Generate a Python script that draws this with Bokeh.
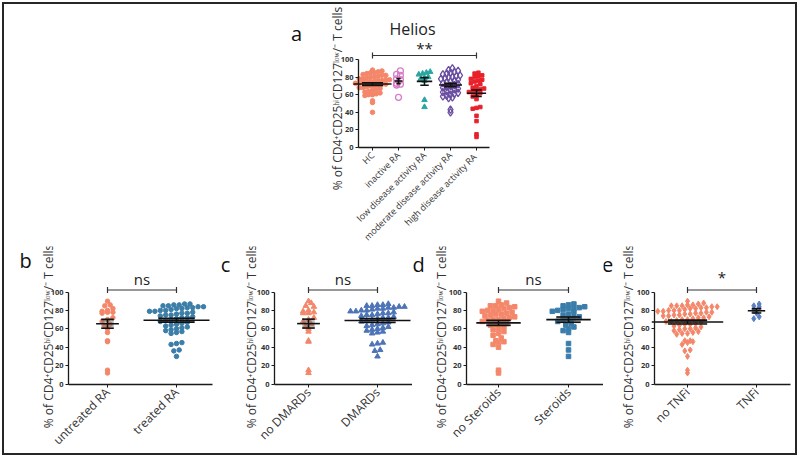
import math
import numpy as np
from bokeh.plotting import figure
from bokeh.layouts import column, row
from bokeh.models import Range1d, FixedTicker, Label
from bokeh.embed import file_html
from bokeh.resources import INLINE

# ---------------- data ----------------
Y_LABEL = "% of CD4\u207aCD25\u02b0\u2071CD127\u02e1\u1d52\u02b7/\u207b T cells"

a_title = "Helios"
a_categories = ["HC", "inactive RA", "low disease activity RA",
                "moderate disease activity RA", "high  disease activity RA"]
a_hc = [88, 87, 86, 85, 85, 84, 83, 82, 82, 81, 80, 80, 79, 78, 78, 77, 77, 76, 76, 75,
        75, 74, 74, 73, 73, 72, 72, 71, 70, 70, 69, 68, 68, 67, 66, 65, 64, 63, 62, 61,
        60, 60, 59, 53, 51, 40]
a_inactive = [87, 83, 82, 78, 77, 73, 72, 71, 57]
a_low = [86, 85, 84, 83, 80, 79, 78, 76, 54, 46]
a_moderate = [90, 88, 87, 86, 85, 84, 83, 82, 81, 80, 80, 79, 78, 77, 76, 75, 74, 73, 72,
              71, 70, 69, 68, 67, 66, 65, 64, 63, 62, 61, 60, 59, 58, 57, 56, 43, 40]
a_high = [85, 84, 82, 81, 80, 78, 77, 76, 75, 73, 72, 70, 68, 67, 66, 65, 64, 63, 62, 60,
          58, 55, 46, 45, 44, 36, 30, 15, 12]
a_sig = "**"

b_categories = ["untreated RA", "treated RA"]
b_untreated = [90, 86, 85, 82, 80, 79, 78, 78, 77, 72, 70, 68, 65, 63, 60, 56, 47, 46, 15, 12]
b_treated = [87, 87, 86, 86, 85, 85, 84, 84, 83, 83, 82, 82, 81, 80, 80, 79, 79, 78, 77, 77,
             76, 75, 75, 74, 73, 72, 72, 71, 70, 69, 68, 67, 66, 65, 64, 63, 62, 61, 60, 59,
             58, 57, 56, 55, 45, 44, 43, 37, 36, 30]
b_sig = "ns"

c_categories = ["no DMARDs", "DMARDs"]
c_no = [90, 88, 85, 84, 80, 79, 78, 77, 77, 72, 70, 68, 65, 63, 60, 57, 47, 46, 15, 12]
c_yes = [87, 86, 86, 85, 85, 84, 84, 83, 83, 82, 82, 81, 80, 80, 79, 79, 78, 77, 77, 76,
         75, 75, 74, 73, 72, 72, 71, 70, 69, 68, 67, 66, 65, 64, 63, 62, 61, 60, 59, 58,
         57, 56, 55, 45, 44, 43, 37, 36, 30]
c_sig = "ns"

d_categories = ["no Steroids", "Steroids"]
d_no = [90, 88, 86, 85, 85, 84, 83, 82, 81, 80, 80, 79, 78, 77, 76, 76, 75, 74, 73, 72,
        71, 70, 70, 69, 68, 67, 66, 65, 64, 62, 60, 59, 57, 55, 53, 50, 47, 46, 45, 43,
        40, 15, 12]
d_yes = [87, 86, 85, 84, 83, 82, 82, 81, 80, 79, 78, 76, 75, 73, 72, 71, 70, 68, 66, 64,
         62, 60, 58, 56, 44, 37, 30]
d_sig = "ns"

e_categories = ["no TNFi", "TNFi"]
e_no = [90, 88, 87, 86, 86, 85, 85, 85, 84, 84, 83, 83, 82, 82, 81, 80, 80, 80, 79, 79,
        78, 78, 77, 77, 76, 76, 75, 75, 74, 74, 73, 72, 72, 71, 70, 70, 69, 68, 68, 67,
        66, 65, 65, 64, 63, 62, 61, 60, 60, 59, 58, 57, 56, 55, 55, 54, 47, 47, 46, 45,
        43, 37, 36, 30, 15, 12]
e_yes = [87, 85, 84, 80, 77, 73, 71]
e_sig = "*"

Y_TICKS = [0, 20, 40, 60, 80, 100]

# ---------------- styles ----------------
SALMON = "#F4876A"
FONT = "Open Sans"
TXT = "#333333"
AX = "#1a1a1a"

# content origin in page pixels and overall size
OX, OY = 4, 4
RIGHT, BOTTOM = 795, 453
SPLIT_Y = 246
SPLITS_X = [OX, 218, 412, 603, RIGHT]


def swarm(vals, px_per_unit, row_px, spacing):
    """Prism-like column scatter: values binned into rows, spread symmetrically."""
    rows = {}
    for i, v in enumerate(vals):
        rows.setdefault(int(round(v * px_per_unit / row_px)), []).append(i)
    offs = [0.0] * len(vals)
    for r, idxs in rows.items():
        idxs = sorted(idxs, key=lambda i: vals[i])
        n = len(idxs)
        for j, i in enumerate(idxs):
            offs[i] = (j - (n - 1) / 2.0) * spacing
    return offs


def text_label(x, y, text, size, color="#222222", angle=0.0):
    return Label(x=x, y=y, text=text, angle=angle, anchor="center",
                 text_align="center", text_baseline="middle",
                 text_font=FONT, text_font_size=size, text_color=color)


def make_panel(x0, y0, w, h, cat1_px, dx, yax_px, xend_px, py0, py100,
               cats, groups, letter, letter_px, sig, sig_pair, sig_y_px, sig_txt_px,
               ylab_px, cat_font, row_px, spacing, mean_extra, shade,
               title=None, title_px=None):
    sy = (py0 - py100) / 100.0
    xs = 1 - (cat1_px - x0) / dx
    xe = xs + w / dx
    ys = -(y0 + h - py0) / sy
    ye = ys + h / sy
    tox = lambda px: 1 + (px - cat1_px) / dx
    toy = lambda py: (py0 - py) / sy

    p = figure(width=w, height=h, x_range=Range1d(xs, xe), y_range=Range1d(ys, ye),
               output_backend="svg", toolbar_location=None, min_border=0,
               background_fill_color="white", border_fill_color="white")
    p.outline_line_color = None
    p.xgrid.visible = False
    p.ygrid.visible = False

    yax = p.yaxis[0]
    yax.fixed_location = tox(yax_px)
    yax.bounds = (0, 100)
    yax.ticker = FixedTicker(ticks=Y_TICKS)
    yax.minor_tick_line_color = None
    yax.major_tick_in = 0
    yax.major_tick_out = 3
    yax.axis_line_color = AX
    yax.major_tick_line_color = AX
    yax.axis_line_width = 1.3
    yax.major_label_text_font = FONT
    yax.major_label_text_font_size = "7.5px"
    yax.major_label_text_font_style = "bold"
    yax.major_label_text_color = TXT
    yax.major_label_standoff = 2

    xax = p.xaxis[0]
    xax.fixed_location = 0
    xax.bounds = (tox(yax_px), tox(xend_px))
    xax.ticker = FixedTicker(ticks=list(range(1, len(cats) + 1)))
    xax.major_label_overrides = {i + 1: c for i, c in enumerate(cats)}
    xax.major_label_orientation = math.pi / 4
    xax.minor_tick_line_color = None
    xax.major_tick_in = 0
    xax.major_tick_out = 3
    xax.axis_line_color = AX
    xax.major_tick_line_color = AX
    xax.axis_line_width = 1.3
    xax.major_label_text_font = FONT
    xax.major_label_text_font_size = cat_font
    xax.major_label_text_color = TXT
    xax.major_label_standoff = 3

    for gi, (vals, st) in enumerate(groups):
        c = gi + 1
        offs = swarm(vals, sy, row_px, spacing)
        xsw = [c + o / dx for o in offs]
        kw = dict(marker=st["marker"], size=st["size"], line_width=st.get("lw", 1))
        if st.get("open"):
            kw.update(fill_color="white", fill_alpha=0.0, line_color=st["color"])
        else:
            kw.update(fill_color=st["color"], line_color=st["color"])
        p.scatter(xsw, vals, **kw)
        arr = np.array(vals, dtype=float)
        m = arr.mean()
        sem = arr.std(ddof=1) / math.sqrt(len(arr))
        half = (max(abs(o) for o in offs) + mean_extra) / dx
        cap = half * 0.55
        if shade:
            p.quad(left=[c - cap], right=[c + cap], bottom=[m - sem], top=[m + sem],
                   fill_color="#6e6e6e", fill_alpha=0.45, line_color=None)
        p.segment(x0=[c - half, c, c - cap, c - cap], y0=[m, m - sem, m - sem, m + sem],
                  x1=[c + half, c, c + cap, c + cap], y1=[m, m + sem, m - sem, m + sem],
                  line_color="#111111", line_width=1.6)

    # significance bracket
    a_, b_ = sig_pair
    yb = toy(sig_y_px)
    tk = 3 / sy
    p.segment(x0=[a_, a_, b_], y0=[yb, yb - tk, yb - tk], x1=[b_, a_, b_], y1=[yb, yb + tk, yb + tk],
              line_color="#333333", line_width=1.2)
    p.add_layout(text_label((a_ + b_) / 2, toy(sig_txt_px), sig, "15px"))
    p.add_layout(text_label(tox(letter_px[0]), toy(letter_px[1]), letter, "20px", "#111111"))
    p.add_layout(text_label(tox(ylab_px[0]), toy(ylab_px[1]), Y_LABEL, "12px", TXT,
                            angle=math.pi / 2))
    if title:
        p.add_layout(text_label(tox(title_px[0]), toy(title_px[1]), title, "16px"))
    return p


pa = make_panel(OX, OY, RIGHT - OX, SPLIT_Y - OY, 372, 26, 358, 489, 147, 59,
                a_categories,
                [(a_hc, dict(marker="circle", size=4.5, color=SALMON)),
                 (a_inactive, dict(marker="circle", size=6, color="#D77CC6", open=True, lw=1.3)),
                 (a_low, dict(marker="triangle", size=5.5, color="#2AA6A1")),
                 (a_moderate, dict(marker="diamond", size=7.5, color="#6B4FA1", open=True, lw=1.3)),
                 (a_high, dict(marker="square", size=3.5, color="#E8212B"))],
                "a", (296, 33), a_sig, (1, 5), 55, 47, (337, 98), "9px", 4.4, 3.8, 2, False,
                title=a_title, title_px=(412, 28))

bottom_specs = [
    (b_categories, b_untreated, b_treated, "circle", 4.5, "#3B7EA8", "b", (25, 260), b_sig, 107, 69, 68, 212, 278, 48),
    (c_categories, c_no, c_yes, "triangle", 5.5, "#4C74B7", "c", (225, 264), c_sig, 308, 69, 274, 412, 278, 251),
    (d_categories, d_no, d_yes, "square", 4.5, "#3A7DAA", "d", (418, 264), d_sig, 498, 70, 466, 603, 278, 441),
    (e_categories, e_no, e_yes, "diamond", 6, "#5A7FC2", "e", (607, 264), e_sig, 687, 69, 654, 790, 276, 628),
]
bottom = []
for i, (cats, g1, g2, mk, sz, blue, letter, lpos, sig, c1, dx, yax, xend, stxt, ylx) in enumerate(bottom_specs):
    x0 = SPLITS_X[i]
    w = SPLITS_X[i + 1] - x0
    bottom.append(make_panel(x0, SPLIT_Y, w, BOTTOM - SPLIT_Y, c1, dx, yax, xend, 383.5, 291.5,
                             cats,
                             [(g1, dict(marker=mk, size=sz, color=SALMON)),
                              (g2, dict(marker=mk, size=sz, color=blue))],
                             letter, lpos, sig, (1, 2), 289.5, stxt, (ylx, 336),
                             "12px", 5.0, 5.4, 6, True))

root = column(pa, row(*bottom, spacing=0), spacing=0,
              styles={"border": "2px solid #262626", "margin": "2px 0 0 2px",
                      "background-color": "white"})
p = root
open("out.html", "w").write(file_html(p, INLINE))
